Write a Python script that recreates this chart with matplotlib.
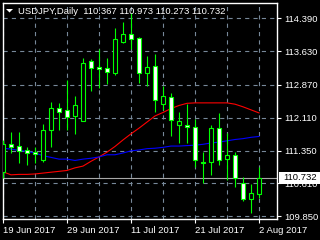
import matplotlib
matplotlib.use('Agg')
import matplotlib.pyplot as plt
from matplotlib.patches import Rectangle, Polygon

plt.rcParams['font.family'] = ['Liberation Sans', 'DejaVu Sans']
plt.rcParams['lines.scale_dashes'] = False

# USDJPY daily, 19 Jun 2017 .. 2 Aug 2017 (one bar per trading day)
opens = [110.87, 111.51, 111.46, 111.37, 111.32, 111.14, 111.83, 112.33, 112.29, 112.15,
         112.03, 113.41, 113.27, 113.25, 113.14, 113.85, 114.03, 113.94, 113.14, 113.30,
         112.42, 112.58, 111.94, 111.94, 111.90, 111.09, 111.09, 111.87, 111.16, 111.25,
         110.61, 110.25, 110.367]
highs = [111.60, 111.78, 111.78, 111.44, 111.44, 111.97, 112.47, 112.45, 112.97, 112.61,
         113.48, 113.46, 113.69, 113.48, 114.17, 114.31, 114.51, 113.96, 113.53, 113.57,
         112.84, 112.68, 112.24, 112.42, 112.08, 111.32, 111.94, 112.22, 111.76, 111.32,
         110.75, 110.59, 110.973]
lows = [110.73, 111.30, 111.07, 111.03, 111.07, 111.09, 111.44, 111.83, 111.83, 111.74,
        112.03, 112.72, 112.79, 112.88, 113.09, 113.82, 113.69, 112.91, 112.84, 112.24,
        112.29, 111.69, 111.53, 111.53, 110.98, 110.61, 110.80, 111.03, 110.68, 110.52,
        110.20, 109.93, 110.273]
closes = [111.51, 111.44, 111.35, 111.30, 111.28, 111.83, 112.33, 112.24, 112.13, 112.40,
          113.37, 113.25, 113.23, 113.16, 113.92, 114.03, 113.92, 113.14, 113.27, 112.52,
          112.61, 112.06, 112.03, 111.90, 111.14, 111.07, 111.87, 111.14, 111.25, 110.73,
          110.25, 110.38, 110.732]
ma_red = [110.87, 110.80, 110.81, 110.81, 110.82, 110.84, 110.86, 110.88, 110.90, 110.96,
          111.00, 111.11, 111.21, 111.32, 111.45, 111.60, 111.74, 111.87, 112.01, 112.15,
          112.23, 112.32, 112.39, 112.44, 112.45, 112.45, 112.45, 112.45, 112.45, 112.42,
          112.36, 112.29, 112.22]
ma_blue = [111.41, 111.39, 111.36, 111.34, 111.30, 111.24, 111.20, 111.16, 111.16, 111.13,
           111.16, 111.18, 111.21, 111.26, 111.26, 111.30, 111.35, 111.37, 111.40, 111.41,
           111.43, 111.46, 111.46, 111.47, 111.48, 111.50, 111.53, 111.55, 111.58, 111.61,
           111.63, 111.66, 111.68]

x_tick_pos = [0, 8, 16, 24, 32]
x_tick_labels = ['19 Jun 2017', '29 Jun 2017', '11 Jul 2017', '21 Jul 2017', '2 Aug 2017']
y_ticks = [114.39, 113.63, 112.87, 112.11, 111.35, 110.61, 109.85]
last_price = 110.732

GREEN = '#00ff00'
GRID = '#778899'
FS = 6.8

fig = plt.figure(figsize=(3.2, 2.4), dpi=100, facecolor='black')
ax = fig.add_axes([2.5 / 320, 21 / 240, 274.5 / 320, 216.5 / 240])
ax.set_facecolor('black')
ax.set_xlim(-0.06, 34.25)
ax.set_ylim(109.787, 114.752)

# grid
for gx in range(0, 33, 4):
    ax.axvline(gx, color=GRID, lw=0.8, ls=(0, (3, 3)), zorder=1)
for gy in y_ticks:
    ax.axhline(gy, color=GRID, lw=0.8, ls=(0, (3, 3)), zorder=1)

ax.axhline(last_price, color='#a8a8a8', lw=0.8, zorder=1.5)

xs = list(range(len(opens)))
ax.plot(xs, ma_red, color='#ff0000', lw=0.8, zorder=2)
ax.plot(xs, ma_blue, color='#0000ff', lw=0.8, zorder=2)

ax.vlines(xs, lows, highs, color=GREEN, lw=0.8, zorder=3)
for i in xs:
    o, c = opens[i], closes[i]
    face = 'black' if c > o else 'white'
    h = max(abs(c - o), 0.01)
    ax.bar(i, h, bottom=min(o, c), width=0.5, color=face, edgecolor=GREEN,
           linewidth=0.8, zorder=4)

for s in ax.spines.values():
    s.set_color('white')
    s.set_linewidth(1)

ax.yaxis.tick_right()
ax.set_yticks(y_ticks)
ax.set_yticklabels(['%.3f' % v for v in y_ticks])
ax.set_xticks(x_tick_pos)
ax.set_xticklabels(x_tick_labels, ha='left')
ax.tick_params(colors='white', labelsize=FS, length=3, width=0.8, pad=2)

# last price tag
fig.patches.append(Rectangle((279 / 320, (240 - 183.5) / 240), 41 / 320, 12 / 240,
                             transform=fig.transFigure, facecolor='white',
                             edgecolor='none', zorder=5))
fig.text(283 / 320, (240 - 177.5) / 240, '%.3f' % last_price, color='black',
         fontsize=FS, va='center', ha='left', zorder=6)

# header
fig.patches.append(Polygon([(6 / 320, (240 - 9) / 240), (13 / 320, (240 - 9) / 240),
                            (9.5 / 320, (240 - 12.5) / 240)], closed=True,
                           transform=fig.transFigure, facecolor='white',
                           edgecolor='none', zorder=5))
fig.text(18 / 320, (240 - 13.5) / 240,
         'USDJPY,Daily  %.3f %.3f %.3f %.3f' % (opens[-1], highs[-1], lows[-1], closes[-1]),
         color='white', fontsize=FS, va='baseline', ha='left', zorder=6)

fig.savefig('out.png', dpi=100, facecolor='black')
